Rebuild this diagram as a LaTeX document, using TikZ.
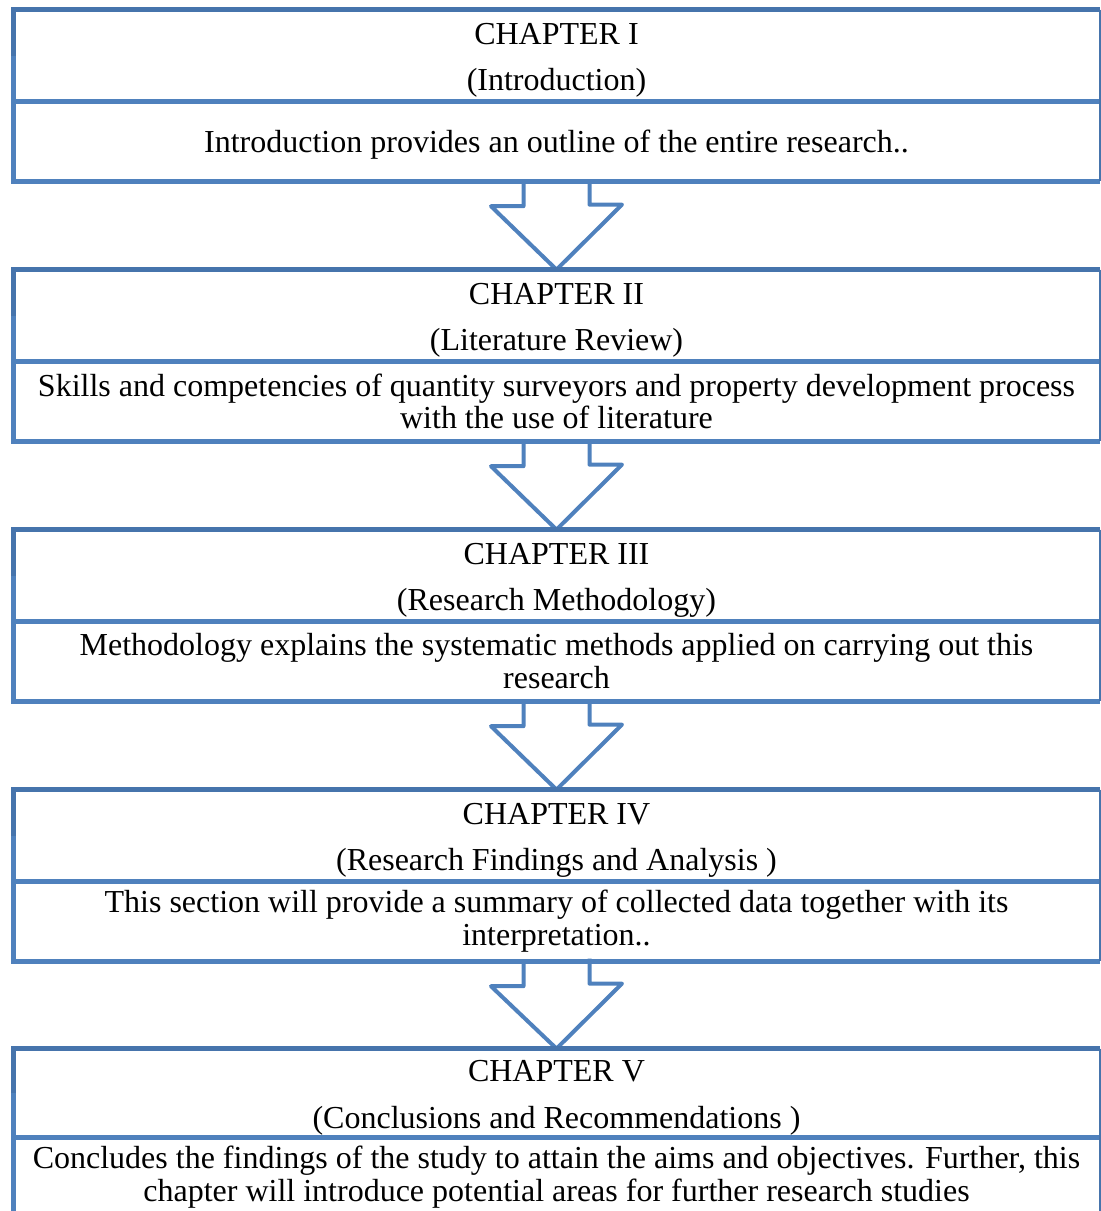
\documentclass[tikz,border=0pt]{standalone}
\usepackage{fontspec}
\setmainfont{Liberation Serif}
\usetikzlibrary{positioning,calc}
\definecolor{chapBlue}{RGB}{79,129,189}
\definecolor{chapBlueDark}{RGB}{70,116,172}
\newcommand{\chaptitle}[2]{\rule{0pt}{15.5pt}CHAPTER #1\\(#2)}
\tikzset{
    head/.style={rectangle,minimum width=543pt,minimum height=45.5pt,inner sep=0pt,align=center,font=\fontsize{16}{23.3}\selectfont},
    body/.style={rectangle,minimum width=543pt,minimum height=39.5pt,inner sep=0pt,align=center,font=\fontsize{16}{16.35}\selectfont},
    frame/.style={line width=2.5pt,draw=chapBlue},
    topframe/.style={line width=2.5pt,draw=chapBlueDark},
    thinedge/.style={line width=0.6pt,draw=chapBlueDark},
    blockarrow/.style={line width=2pt,draw=chapBlue,line join=round}
}

\begin{document}
\begin{tikzpicture}[x=0.5pt,y=-0.5pt]
  \useasboundingbox (0,0) rectangle (1100,1211);

  \node[head] (h1) at (556.5, 55.5)  {\chaptitle{I}{Introduction}};
  \node[body,below=0pt of h1] (b1) {\rule{0pt}{14.5pt}Introduction provides an outline of the entire research..};
  \node[head] (h2) at (556.5, 315.5) {\chaptitle{II}{Literature Review}};
  \node[body,below=0pt of h2] (b2) {Skills and competencies of quantity surveyors and property development process\\with the use of literature};
  \node[head] (h3) at (556.5, 575.5) {\chaptitle{III}{Research Methodology}};
  \node[body,below=0pt of h3] (b3) {Methodology explains the systematic methods applied on carrying out this\\research};
  \node[head] (h4) at (556.5, 835.5) {\chaptitle{IV}{Research Findings and Analysis }};
  \node[body,below=0pt of h4] (b4) {This section will provide a summary of collected data together with its\\interpretation..};
  \node[head,minimum height=44pt] (h5) at (556.5, 1093) {\chaptitle{V}{Conclusions and Recommendations }};
  \node[body,below=0pt of h5] (b5) {Concludes the findings of the study to attain the aims and objectives. Further, this\\chapter will introduce potential areas for further research studies};

  % block arrows between the chapters
  \foreach \i/\j in {1/2,2/3,3/4,4/5}
    \draw[blockarrow] ($(b\i.south)+(-33,0)$) -- ++(0,25) -- ++(-32.5,0) -- (h\j.north)
      -- ++(65.5,-65) -- ++(-32.5,0) -- ++(0,-25);

  % chapter frames
  \foreach \i in {1,...,5} {
    \draw[frame] (h\i.west) -- (b\i.south west) -- (b\i.south east);
    \draw[frame] (h\i.south west) -- (h\i.south east);
    \draw[topframe] (h\i.north east) -- (h\i.north west) -- (h\i.west);
    \draw[thinedge] (h\i.north east) -- (b\i.south east);
  }
\end{tikzpicture}
\end{document}
